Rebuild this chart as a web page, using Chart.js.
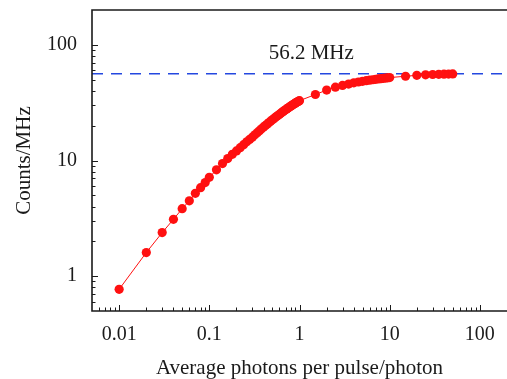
<!DOCTYPE html>
<html>
<head>
<meta charset="utf-8">
<script src="https://cdn.jsdelivr.net/npm/chart.js@4.4.1/dist/chart.umd.min.js"></script>
<style>
  html, body { margin: 0; padding: 0; background: #fff; }
  #chart { display: block; }
</style>
</head>
<body>
<canvas id="chart" width="507" height="379"></canvas>
<script>
// average photons per pulse (x) and measured count rate in MHz (y)
const photons = [
    0.01, 0.02, 0.03, 0.04, 0.05, 0.06, 0.07, 0.08, 0.09, 0.1,
    0.12, 0.14, 0.16, 0.18, 0.2, 0.22, 0.24, 0.26, 0.28, 0.3,
    0.32, 0.34, 0.36, 0.38, 0.4, 0.42, 0.44, 0.46, 0.48, 0.5,
    0.52, 0.54, 0.56, 0.58, 0.6, 0.62, 0.64, 0.66, 0.68, 0.7,
    0.72, 0.74, 0.76, 0.78, 0.8, 0.82, 0.84, 0.86, 0.88, 0.9,
    0.92, 0.94, 0.96, 0.98, 1.0,
    1.5, 2, 2.5, 3, 3.5, 4, 4.5, 5, 5.5, 6,
    6.5, 7, 7.5, 8, 8.5, 9, 9.5, 10,
    15, 20, 25, 30, 35, 40, 45, 50
];
const counts = [
    0.77, 1.6, 2.38, 3.1, 3.83, 4.48, 5.2, 5.82, 6.45, 7.15,
    8.3, 9.4, 10.4, 11.3, 12.1, 12.9, 13.7, 14.5, 15.2, 15.9,
    16.7, 17.4, 18.1, 18.8, 19.5, 20.1, 20.7, 21.3, 21.9, 22.5,
    23.0, 23.6, 24.1, 24.6, 25.1, 25.6, 26.1, 26.5, 27.0, 27.4,
    27.9, 28.3, 28.7, 29.1, 29.5, 29.9, 30.3, 30.6, 31.0, 31.3,
    31.7, 32.0, 32.3, 32.6, 32.9,
    37.2, 40.6, 43.0, 44.6, 45.8, 46.9, 47.7, 48.4, 49.0, 49.5,
    49.9, 50.3, 50.7, 51.0, 51.3, 51.6, 51.8, 52.1,
    53.5, 54.5, 55.0, 55.4, 55.6, 55.8, 55.9, 56.0
];

const saturation = 56.2;
const saturationLabel = '56.2 MHz';
const labelAt = { x: 1.35, y: 85 };

const xTickValues = [0.01, 0.1, 1, 10, 100];
const yTickValues = [1, 10, 100];
const xRange = [0.005, 200];
const yRange = [0.5, 200];

const serif = '"Liberation Serif", "Times New Roman", serif';
const ink = '#1a1a1a';

// frame, inward ticks and the saturation label
const framePlugin = {
    id: 'frame',
    afterDraw(chart) {
        const { ctx, chartArea: a, scales } = chart;
        const x = scales.x, y = scales.y;
        ctx.save();
        ctx.strokeStyle = ink;
        ctx.lineWidth = 1;
        ctx.beginPath();
        for (let d = -3; d <= 2; d++) {
            for (let m = 1; m <= 9; m++) {
                const v = m * Math.pow(10, d);
                const len = m === 1 ? 6 : 3.5;
                if (v >= xRange[0] && v <= xRange[1]) {
                    const px = Math.round(x.getPixelForValue(v)) + 0.5;
                    if (px > a.left + 1 && px < a.right) {
                        ctx.moveTo(px, a.bottom);
                        ctx.lineTo(px, a.bottom - len);
                    }
                }
                if (v >= yRange[0] && v <= yRange[1]) {
                    const py = Math.round(y.getPixelForValue(v)) + 0.5;
                    if (py > a.top + 1 && py < a.bottom - 1) {
                        ctx.moveTo(a.left, py);
                        ctx.lineTo(a.left + len, py);
                    }
                }
            }
        }
        ctx.stroke();

        ctx.lineWidth = 1.6;
        ctx.beginPath();
        ctx.moveTo(a.right + 2, a.top);
        ctx.lineTo(a.left, a.top);
        ctx.lineTo(a.left, a.bottom);
        ctx.lineTo(a.right + 2, a.bottom);
        ctx.stroke();

        ctx.fillStyle = ink;
        ctx.font = '21px ' + serif;
        ctx.textAlign = 'center';
        ctx.textBaseline = 'middle';
        ctx.fillText(saturationLabel, x.getPixelForValue(labelAt.x), y.getPixelForValue(labelAt.y));
        ctx.restore();
    }
};

const points = photons.map((p, i) => ({ x: p, y: counts[i] }));

new Chart(document.getElementById('chart'), {
    type: 'scatter',
    data: {
        datasets: [
            {
                label: 'counts',
                data: points,
                showLine: true,
                borderColor: '#ff1010',
                borderWidth: 1,
                backgroundColor: '#ff1010',
                pointRadius: 4.6,
                pointBorderWidth: 0,
                order: 1
            },
            {
                label: 'saturation',
                data: [{ x: xRange[0], y: saturation }, { x: xRange[1], y: saturation }],
                showLine: true,
                borderColor: '#2448e0',
                borderWidth: 1.6,
                borderDash: [11, 8],
                pointRadius: 0,
                order: 2
            }
        ]
    },
    options: {
        responsive: false,
        animation: false,
        devicePixelRatio: 1,
        layout: { autoPadding: false, padding: { top: 10, right: 0, left: 0, bottom: 0 } },
        plugins: {
            legend: { display: false },
            tooltip: { enabled: false }
        },
        scales: {
            x: {
                type: 'logarithmic',
                min: xRange[0],
                max: xRange[1],
                grid: { display: false, drawTicks: false },
                border: { display: false },
                afterBuildTicks: s => { s.ticks = xTickValues.map(v => ({ value: v })); },
                afterFit: s => { s.height = 68; s.paddingLeft = 0; s.paddingRight = 0; },
                ticks: {
                    padding: 12,
                    color: ink,
                    maxRotation: 0,
                    autoSkip: false,
                    font: { family: serif, size: 20 },
                    callback: v => String(v)
                },
                title: {
                    display: true,
                    text: 'Average photons per pulse/photon',
                    color: ink,
                    font: { family: serif, size: 21 },
                    padding: { top: 0, bottom: -2 }
                }
            },
            y: {
                type: 'logarithmic',
                min: yRange[0],
                max: yRange[1],
                grid: { display: false, drawTicks: false },
                border: { display: false },
                afterBuildTicks: s => { s.ticks = yTickValues.map(v => ({ value: v })); },
                afterFit: s => { s.width = 92; s.paddingTop = 0; s.paddingBottom = 0; },
                ticks: {
                    padding: 15,
                    color: ink,
                    autoSkip: false,
                    font: { family: serif, size: 20 },
                    callback: v => String(v)
                },
                title: {
                    display: true,
                    text: 'Counts/MHz',
                    color: ink,
                    font: { family: serif, size: 21 },
                    padding: { top: 12, bottom: 0 }
                }
            }
        }
    },
    plugins: [framePlugin]
});
</script>
</body>
</html>
